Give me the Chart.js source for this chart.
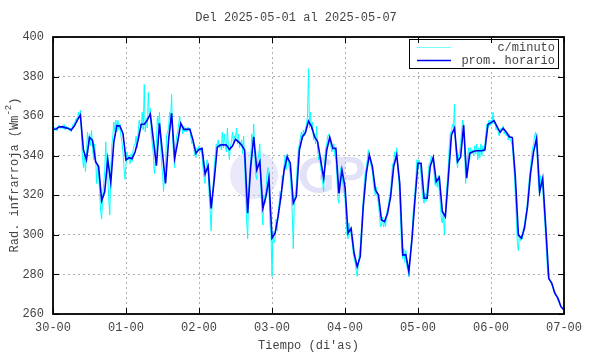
<!DOCTYPE html>
<html><head><meta charset="utf-8">
<script src="https://cdn.jsdelivr.net/npm/chart.js@4/dist/chart.umd.min.js"></script>
<style>html,body{margin:0;padding:0;background:#fff}#wrap{width:590px;height:354px}</style>
</head><body><div id="wrap"><canvas id="c" width="590" height="354"></canvas></div>
<script>
const chartTitle = 'Del 2025-05-01 al 2025-05-07';
const xAxisTitle = "Tiempo (di'as)";
const yAxisTitleMain = 'Rad. infrarroja (Wm';
const yAxisTitleSup = '-2';
const yAxisTitleEnd = ')';
const xTickLabels = ['30-00','01-00','02-00','03-00','04-00','05-00','06-00','07-00'];
const legendLabels = ['c/minuto', 'prom. horario'];

// hourly mean, one value per hour from 30-00 to 07-00
const hourlyMean = [
353.4,353.5,354.5,354.7,354.2,353.8,353,355,358,360.6,343,338,
349.3,347.8,337,334.5,317.3,321.8,338.2,326.4,347,355.2,355,351.3,
337.8,339,338.5,342,348,355.9,355.9,358,361,348,335,356.4,
341.2,326,348,361.4,338.7,347,356.4,353.3,353.3,353.3,348,341.2,
343.2,343.7,330.8,334.8,313.4,327.7,344.3,345.4,345.5,345.4,343.2,344.9,
348.3,347,345.4,342.9,310.9,334.5,349.6,332.8,337,313.4,319.3,328.6,
298.3,300.8,309.2,320.1,332.8,339.5,336.2,316,319.3,342.9,349.6,351.6,
357.5,354.7,349.6,347.1,337.8,328.6,342.9,349.3,343.7,343.7,321,332.8,
324.3,300.8,303.3,290.7,283.9,289,314.2,331.1,340.4,334.5,322.7,320.1,
307.5,306.7,310.9,319.3,334.5,340.4,326,289.8,290,281.4,297.4,317.6,
336.2,336.2,318.5,318.5,334.5,339.2,326.9,329.1,311.7,309.2,329.4,350.5,
353.9,337,339.2,355.5,328.6,341.2,342,342.5,342.5,342.5,343,355.9,
356.7,357.7,354.7,351.8,353.9,352,349.6,349.2,329.4,299.9,298.3,303.3,
314.2,331.1,342,348.8,321.8,328.6,304.1,278,275.5,270.5,268,263.7,
262
];

// per-minute readings (sampled three times an hour)
const minuteSamples = [
352,354.5,352.8, 354,352.5,355, 355.5,354,353.8, 355,353.5,355.8, 353,355,353.5, 354.5,352.5,353.8, 352,354.8,356, 356,357.5,359,
357,362,359.5, 363,352,340, 334,340,332, 341,352,346, 351,345,353, 344,338,346, 340,326,336, 330,322,312,
308,319,326, 332,347,335, 331,318,310, 333,345,350, 357,352,358, 352,358,353, 356,350,347, 342,334,328,
336,342,338, 340,336,341, 337,343,345, 346,350,344, 352,358,355, 354,362,353, 376,352,359, 354,372,360,
364,350,346, 340,331,338, 346,360,355, 362,349,336, 332,322,330, 335,350,352, 354,362,358, 371,348,340,
334,345,350, 352,356,360, 354,356,351, 355,352,354, 352,354.5,353, 354,349,346, 347,343,340, 339,344,343,
345,342,344, 340,333,329, 326,335,338, 331,320,312, 302,318,326, 334,340,346, 345,348,344, 346,343,352,
344,351,345, 342,354,344, 338,345,347, 352,346,350, 349,354,346, 351,344,346, 348,341,350, 336,322,307,
298,322,332, 338,351,346, 356,340,330, 328,338,341, 346,324,312, 305,320,316, 322,330,334, 324,306,300,
279,302,296, 298,308,302, 312,316,322, 318,330,328, 336,340,333, 341,337,334, 330,322,310, 293,318,320,
326,336,343, 346,349,352, 348,353,350, 354,356,360, 384,354,362, 353,357,348, 351,346,355, 343,338,340,
334,330,326, 322,338,344, 346,350,351, 347,345,342, 344,346,340, 338,330,318, 316,330,334, 330,326,322,
318,308,300, 298,306,302, 300,296,291, 288,286,282, 279,284,290, 294,302,310, 318,326,332, 334,338,343,
340,337,334, 332,326,322, 320,324,318, 316,310,304, 305,309,304, 307,304,311, 313,316,320, 322,330,336,
336,342,338, 344,334,328, 318,304,292, 288,293,286, 292,284,282, 279,288,294, 300,310,316, 322,330,338,
334,338,335, 330,322,318, 316,321,317, 324,330,336, 336,340,338, 336,330,325, 328,324,330, 322,316,308,
306,312,300, 312,322,328, 336,346,352, 352,356,354, 366,344,338, 334,340,342, 346,352,358, 356,342,326,
334,340,344, 338,344,341, 343,340,345, 341,346,338, 344,339,346, 340,345,342, 346,352,356, 354,358,355,
358,356,362, 356,357,353, 355,352,350, 352,354,353, 355,351,353, 350,352,348, 351,348,347, 345,338,330,
320,308,296, 292,300,297, 300,298,304, 305,310,312, 318,324,330, 334,340,344, 346,350,352, 346,334,324,
320,330,326, 324,314,306, 298,288,280, 278,277,276, 274.5,273,271, 270,269.5,268.5, 267,266,264.5, 263.5,263,262.5,
262
];

const FONT = 'Liberation Mono, DejaVu Sans Mono, monospace';
const TXT = '#444';
const CYAN = '#00ffff';
const BLUE = '#0000f0';

const hourlyPts = hourlyMean.map((v, i) => ({x: i, y: v}));
const minutePts = minuteSamples.map((v, i) => ({x: i / 3, y: v}));

const decor = {
  id: 'decor',
  beforeDatasetsDraw(chart) {
    const ctx = chart.ctx;
    const a = chart.chartArea;
    ctx.save();
    ctx.beginPath(); ctx.rect(a.left, a.top, a.right - a.left, a.bottom - a.top); ctx.clip();
    ctx.fillStyle = 'rgba(200,200,240,0.4)';
    ctx.beginPath(); ctx.arc(254, 175, 24, 0, Math.PI * 2); ctx.fill();
    ctx.fillStyle = 'rgba(200,200,240,0.55)';
    ctx.font = 'bold 50px Lato, sans-serif';
    ctx.textAlign = 'left'; ctx.textBaseline = 'middle';
    ctx.fillText('GP', 298, 177);
    ctx.restore();
  },
  afterDatasetsDraw(chart) {
    const ctx = chart.ctx;
    const a = chart.chartArea;
    const xs = chart.scales.x, ys = chart.scales.y;
    ctx.save();
    // legend box
    const lx = 409, ly = 39, lw = 149, lh = 29;
    ctx.fillStyle = '#fff';
    ctx.fillRect(lx, ly, lw, lh);
    ctx.strokeStyle = '#000'; ctx.lineWidth = 1;
    ctx.strokeRect(lx + 0.5, ly + 0.5, lw, lh);
    const rows = [{c: '#7ff', w: 1.2, y: 47}, {c: BLUE, w: 1.6, y: 60}];
    ctx.font = '12px ' + FONT; ctx.fillStyle = TXT;
    ctx.textAlign = 'right'; ctx.textBaseline = 'middle';
    rows.forEach((r, i) => {
      ctx.strokeStyle = r.c; ctx.lineWidth = r.w;
      ctx.beginPath(); ctx.moveTo(417, r.y + 0.5); ctx.lineTo(451, r.y + 0.5); ctx.stroke();
      ctx.fillText(legendLabels[i], 555, r.y + 1);
    });
    // frame
    ctx.strokeStyle = '#000'; ctx.lineWidth = 1.8;
    ctx.strokeRect(a.left, a.top, a.right - a.left, a.bottom - a.top);
    // inward ticks
    ctx.lineWidth = 1;
    const tl = 6;
    for (let i = 0; i < xTickLabels.length; i++) {
      const px = Math.round(xs.getPixelForValue(i * 24)) + 0.5;
      ctx.beginPath();
      ctx.moveTo(px, a.bottom); ctx.lineTo(px, a.bottom - tl);
      ctx.moveTo(px, a.top); ctx.lineTo(px, a.top + tl);
      ctx.stroke();
    }
    for (let v = 260; v <= 400; v += 20) {
      const py = Math.round(ys.getPixelForValue(v)) + 0.5;
      ctx.beginPath();
      ctx.moveTo(a.left, py); ctx.lineTo(a.left + tl, py);
      ctx.moveTo(a.right, py); ctx.lineTo(a.right - tl, py);
      ctx.stroke();
    }
    // titles
    ctx.fillStyle = TXT;
    ctx.font = '12px ' + FONT;
    ctx.textAlign = 'center'; ctx.textBaseline = 'middle';
    ctx.fillText(chartTitle, 296, 18);
    ctx.fillText(xAxisTitle, (a.left + a.right) / 2, 346);
    // y axis title with superscript
    ctx.save();
    ctx.translate(15, 175);
    ctx.rotate(-Math.PI / 2);
    ctx.textAlign = 'left';
    ctx.font = '12px ' + FONT;
    const w1 = ctx.measureText(yAxisTitleMain).width;
    const w3 = ctx.measureText(yAxisTitleEnd).width;
    ctx.font = '9px ' + FONT;
    const w2 = ctx.measureText(yAxisTitleSup).width;
    let x0 = -(w1 + w2 + w3) / 2;
    ctx.font = '12px ' + FONT;
    ctx.fillText(yAxisTitleMain, x0, 0);
    ctx.font = '9px ' + FONT;
    ctx.fillText(yAxisTitleSup, x0 + w1, -6);
    ctx.font = '12px ' + FONT;
    ctx.fillText(yAxisTitleEnd, x0 + w1 + w2, 0);
    ctx.restore();
    ctx.restore();
  }
};

new Chart(document.getElementById('c'), {
  type: 'line',
  data: {
    datasets: [
      {label: legendLabels[1], data: hourlyPts, borderColor: BLUE, borderWidth: 1.6, pointRadius: 0, tension: 0, order: 0},
      {label: legendLabels[0], data: minutePts, borderColor: CYAN, borderWidth: 1, pointRadius: 0, tension: 0, order: 1}
    ]
  },
  options: {
    responsive: false,
    animation: false,
    devicePixelRatio: 1,
    layout: {padding: {top: 37, right: 26, left: 0, bottom: 0}},
    plugins: {legend: {display: false}, title: {display: false}, tooltip: {enabled: false}},
    scales: {
      x: {
        type: 'linear', min: 0, max: 168,
        afterBuildTicks: s => { s.ticks = xTickLabels.map((_, i) => ({value: i * 24})); },
        afterFit: s => { s.height = 40; },
        ticks: {callback: v => xTickLabels[Math.round(v / 24)], font: {family: FONT, size: 12}, color: TXT, padding: 7, maxRotation: 0, autoSkip: false},
        grid: {drawTicks: false, color: '#b0b0b0', lineWidth: 1},
        border: {display: false, dash: [2, 3]}
      },
      y: {
        min: 260, max: 400,
        afterBuildTicks: s => { const t = []; for (let v = 260; v <= 400; v += 20) t.push({value: v}); s.ticks = t; },
        afterFit: s => { s.width = 53; },
        ticks: {font: {family: FONT, size: 12}, color: TXT, padding: 9},
        grid: {drawTicks: false, color: '#b0b0b0', lineWidth: 1},
        border: {display: false, dash: [2, 3]}
      }
    }
  },
  plugins: [decor]
});
</script>
</body></html>
